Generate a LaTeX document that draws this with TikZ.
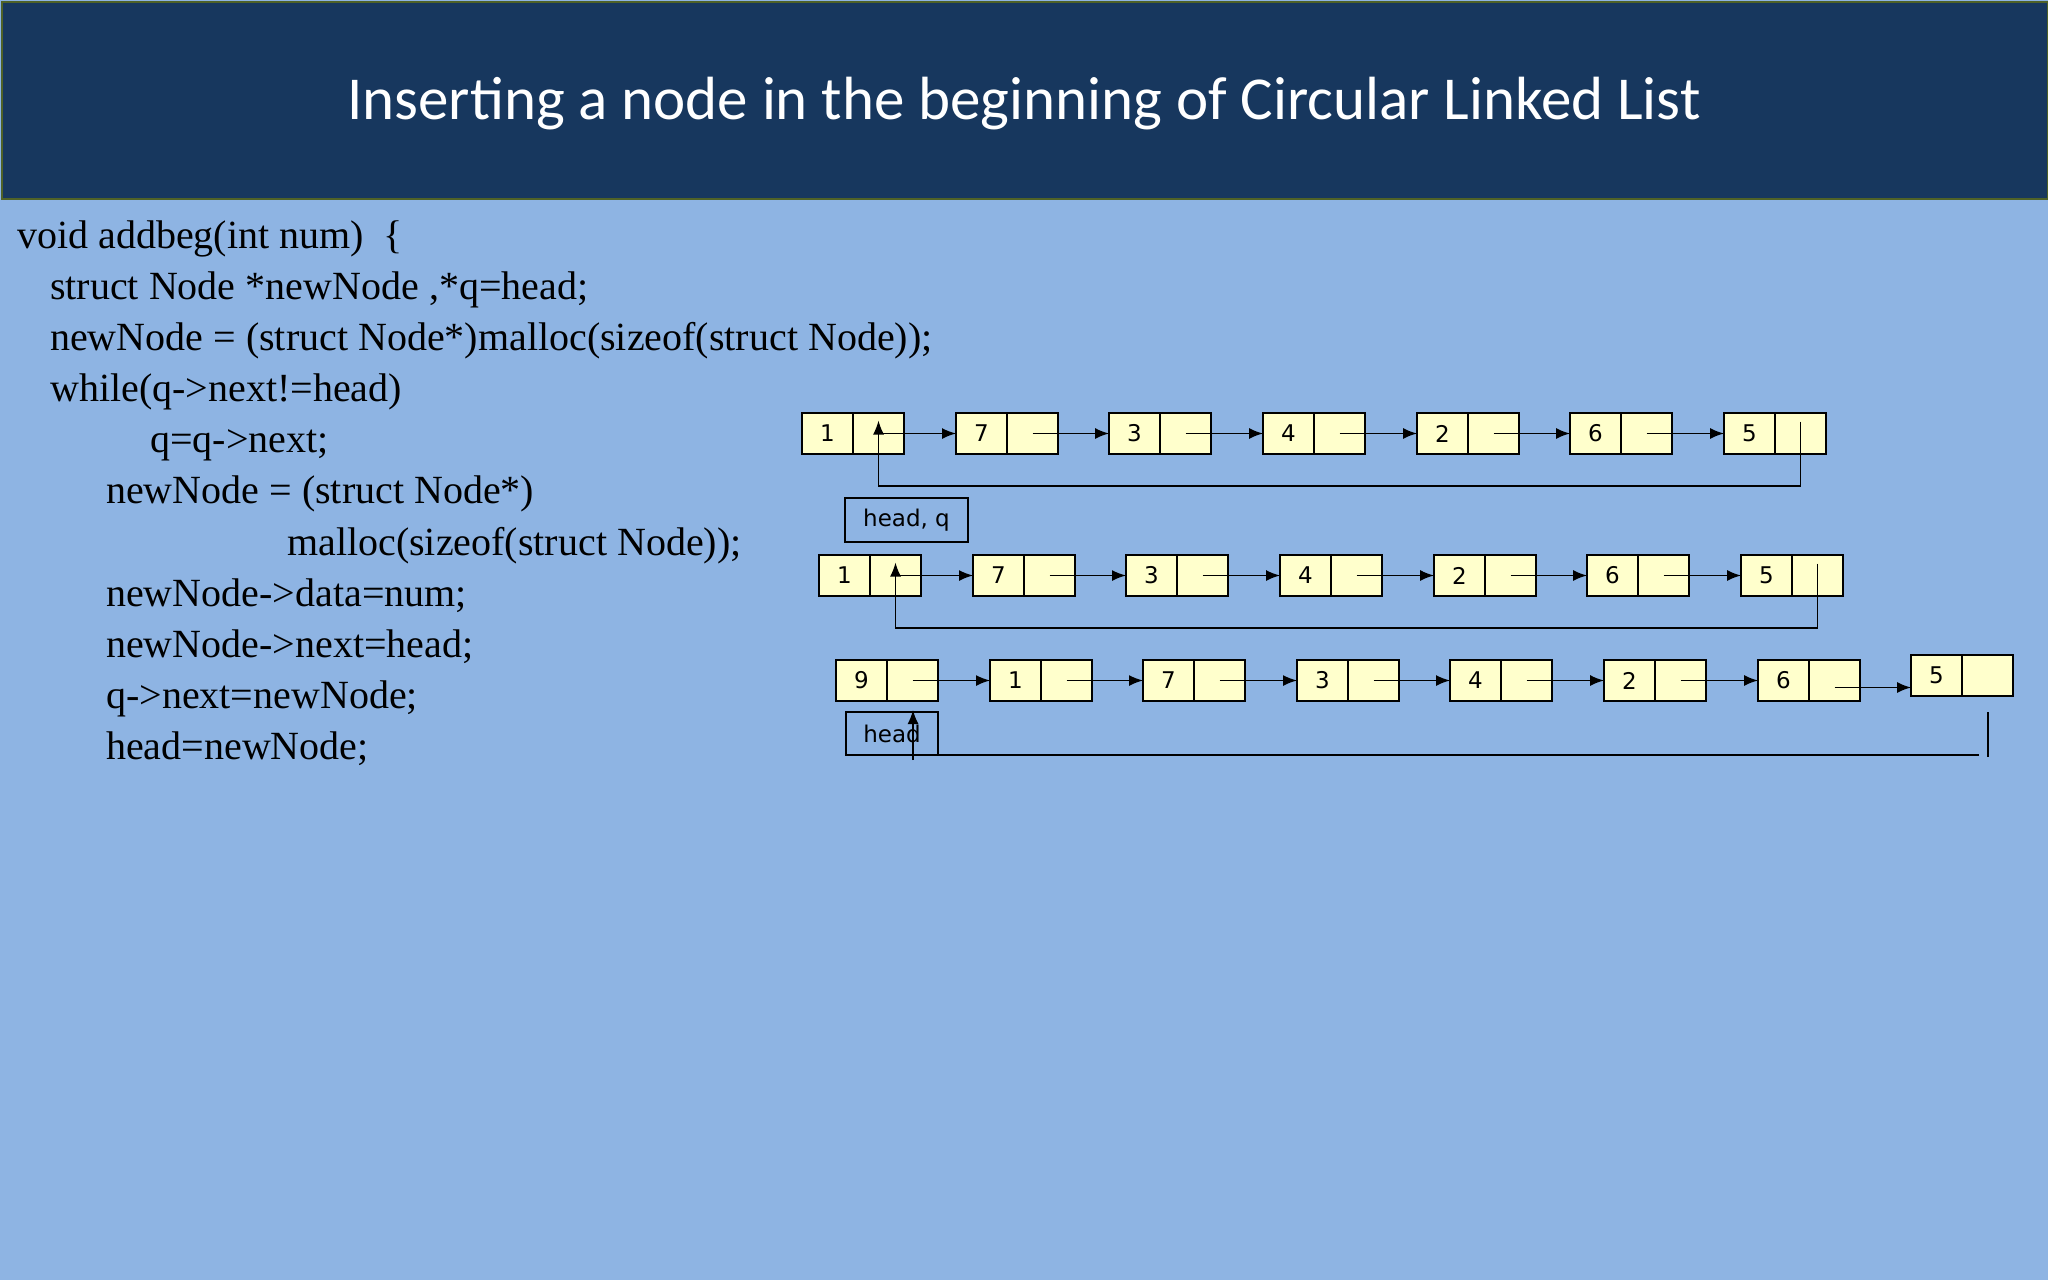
\documentclass[tikz,border=0pt]{standalone}
\usepackage{fontspec}
\setmainfont{Liberation Serif}
\newfontfamily\titlefont{Carlito}
\newfontfamily\boxfont{DejaVu Sans}
\usetikzlibrary{arrows.meta,positioning}
\definecolor{bg}{HTML}{8EB4E3}
\definecolor{bar}{HTML}{17375E}
\definecolor{barline}{HTML}{4F6228}
\definecolor{cellc}{HTML}{FFFFCC}
\tikzset{
 cell/.style={draw=black,fill=cellc,line width=1.5pt,minimum width=51pt,minimum height=41pt,inner sep=0pt,outer sep=0pt,font=\boxfont\fontsize{23}{23}\selectfont},
 arr/.style={line width=1.5pt,-{Latex[length=14pt,width=11pt]}},
 ln/.style={line width=1.5pt},
 code/.style={anchor=base west,inner sep=0pt,font=\fontsize{40}{40}\selectfont},
 lbl/.style={draw=black,line width=1.5pt,inner sep=0pt,outer sep=0pt,font=\boxfont\fontsize{23}{23}\selectfont}
}
\newcommand{\lnode}[4]{%
 \node[cell,anchor=north west] (#1a) at (#2,#3) {#4};
 \node[cell,anchor=west] (#1b) at (#1a.east) {};}
\begin{document}
\begin{tikzpicture}[x=1pt,y=-1pt]
\fill[bg] (0,0) rectangle (2048,1280);
\useasboundingbox (0,0) rectangle (2048,1280);
\node[fill=bar,draw=barline,line width=2pt,minimum width=2046pt,minimum height=197pt,anchor=north west,inner sep=0pt] (title) at (1,1) {};
\node[text=white,font=\titlefont\fontsize{61}{61}\selectfont] (tt) at (1024,104) {Inserting a node in the beginning of Circular Linked List};
% code
\node[code] (c1) at (17,248) {void addbeg(int num)\ \ \{};
\node[code] (c2) at (50,299) {struct Node *newNode ,*q=head;};
\node[code] (c3) at (50,350) {newNode = (struct Node*)malloc(sizeof(struct Node));};
\node[code] (c4) at (50,401) {while(q->next!=head)};
\node[code] (c5) at (150,452) {q=q->next;};
\node[code] (c6) at (106,503) {newNode = (struct Node*)};
\node[code] (c7) at (287,555) {malloc(sizeof(struct Node));};
\node[code] (c8) at (106,606) {newNode->data=num;};
\node[code] (c9) at (106,657) {newNode->next=head;};
\node[code] (c10) at (106,708) {q->next=newNode;};
\node[code] (c11) at (106,759) {head=newNode;};
% row 1
\lnode{ra1}{802}{413}{1}
\lnode{ra2}{956}{413}{7}
\lnode{ra3}{1109}{413}{3}
\lnode{ra4}{1263}{413}{4}
\lnode{ra5}{1417}{413}{2}
\lnode{ra6}{1570}{413}{6}
\lnode{ra7}{1724}{413}{5}
\draw[arr] (ra1b.center) -- (ra2a.west);
\draw[arr] (ra2b.center) -- (ra3a.west);
\draw[arr] (ra3b.center) -- (ra4a.west);
\draw[arr] (ra4b.center) -- (ra5a.west);
\draw[arr] (ra5b.center) -- (ra6a.west);
\draw[arr] (ra6b.center) -- (ra7a.west);
\draw[arr] ([yshift=12pt]ra7b.center) -- (ra7b.center |- 0,486) -| ([yshift=13pt]ra1b.center);
% row 2
\node[lbl,minimum width=123pt,minimum height=44pt,anchor=north west] (hq) at (845,498) {head, q};
\lnode{rb1}{819}{555}{1}
\lnode{rb2}{973}{555}{7}
\lnode{rb3}{1126}{555}{3}
\lnode{rb4}{1280}{555}{4}
\lnode{rb5}{1434}{555}{2}
\lnode{rb6}{1587}{555}{6}
\lnode{rb7}{1741}{555}{5}
\draw[arr] (rb1b.center) -- (rb2a.west);
\draw[arr] (rb2b.center) -- (rb3a.west);
\draw[arr] (rb3b.center) -- (rb4a.west);
\draw[arr] (rb4b.center) -- (rb5a.west);
\draw[arr] (rb5b.center) -- (rb6a.west);
\draw[arr] (rb6b.center) -- (rb7a.west);
\draw[arr] ([yshift=12pt]rb7b.center) -- (rb7b.center |- 0,628) -| ([yshift=13pt]rb1b.center);
% row 3
\lnode{rc1}{836}{660}{9}
\lnode{rc2}{990}{660}{1}
\lnode{rc3}{1143}{660}{7}
\lnode{rc4}{1297}{660}{3}
\lnode{rc5}{1450}{660}{4}
\lnode{rc6}{1604}{660}{2}
\lnode{rc7}{1758}{660}{6}
\lnode{rc8}{1911}{655}{5}
\draw[arr] (rc1b.center) -- (rc2a.west);
\draw[arr] (rc2b.center) -- (rc3a.west);
\draw[arr] (rc3b.center) -- (rc4a.west);
\draw[arr] (rc4b.center) -- (rc5a.west);
\draw[arr] (rc5b.center) -- (rc6a.west);
\draw[arr] (rc6b.center) -- (rc7a.west);
\coordinate (s7) at ([yshift=-7pt]rc7b.center);
\draw[arr] (s7) -- (rc8a.west |- s7);
\node[lbl,minimum width=92pt,minimum height=43pt,anchor=north west] (hd) at (846,712) {head};
\coordinate (r3a) at (1988,712);
\coordinate (r3b) at (1988,757);
\draw[ln] (r3a) -- (r3b);
\coordinate (r3c) at (1979,755);
\coordinate (r3d) at (905,755);
\draw[ln] (r3c) -- (r3d);
\coordinate (r3e) at (913,760);
\draw[arr] (r3e) -- (913,710);
\end{tikzpicture}
\end{document}
